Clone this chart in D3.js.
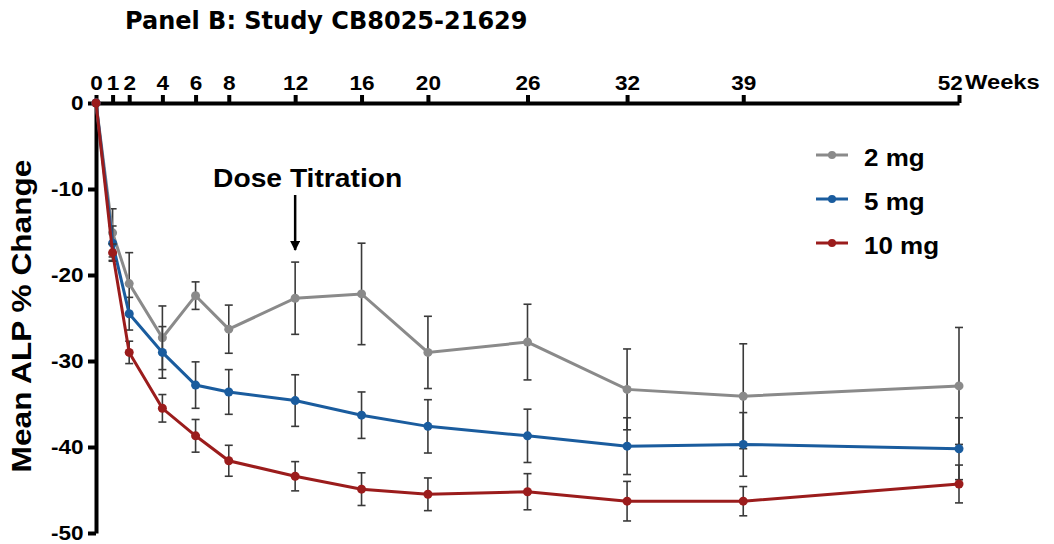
<!DOCTYPE html>
<html>
<head>
<meta charset="utf-8">
<script src="https://cdn.jsdelivr.net/npm/d3@7"></script>
<style>
  body { margin: 0; background: #fff; }
  text { font-family: "Liberation Sans", Arial, sans-serif; font-weight: bold; fill: #000; }
</style>
</head>
<body>
<script>
// weeks on the x axis
var weeks = [0, 1, 2, 4, 6, 8, 12, 16, 20, 26, 32, 39, 52];
var weekTicks = [0, 1, 2, 4, 6, 8, 12, 16, 20, 26, 32, 39, 52];
var yTicks = [0, -10, -20, -30, -40, -50];

// mean % change and error (+/-) per dose
var mean2mg  = [0, -15.1, -21.0, -27.3, -22.4, -26.3, -22.7, -22.2, -29.0, -27.8, -33.3, -34.1, -32.9];
var err2mg   = [0, 2.8, 3.6, 3.7, 1.6, 2.8, 4.2, 5.9, 4.2, 4.4, 4.7, 6.1, 6.8];
var mean5mg  = [0, -16.3, -24.5, -29.0, -32.8, -33.6, -34.6, -36.3, -37.6, -38.7, -39.9, -39.7, -40.2];
var err5mg   = [0, 2.0, 1.9, 3.0, 2.7, 2.6, 3.0, 2.7, 3.1, 3.1, 3.3, 3.7, 3.6];
var mean10mg = [0, -17.4, -29.0, -35.5, -38.7, -41.6, -43.4, -44.9, -45.5, -45.2, -46.3, -46.3, -44.3];
var err10mg  = [0, 1.0, 1.3, 1.6, 1.9, 1.8, 1.7, 1.9, 1.9, 2.1, 2.3, 1.7, 2.2];

var doses = ["2 mg", "5 mg", "10 mg"];
var colors = ["#8a8a8a", "#1a5c9e", "#9b1c1c"];

var series = [
    {name: doses[0], color: colors[0], mean: mean2mg, err: err2mg},
    {name: doses[1], color: colors[1], mean: mean5mg, err: err5mg},
    {name: doses[2], color: colors[2], mean: mean10mg, err: err10mg}
];

var stretch = 1.13;  // reference text looks a bit wide

var svg = d3.select("body").append("svg")
    .attr("width", 1054)
    .attr("height", 544);

var x = d3.scaleLinear().domain([0, 52]).range([96, 959]);
var y = d3.scaleLinear().domain([-50, 0]).range([533, 103]);

// wide text helper
function wideText(tx, ty, size, str) {
    return svg.append("text")
        .attr("transform", "translate(" + tx + "," + ty + ") scale(" + stretch + ",1)")
        .style("font-size", size + "px")
        .text(str);
}

// title
svg.append("text")
    .attr("x", 125).attr("y", 29)
    .style("font-family", "'DejaVu Sans', Verdana, sans-serif")
    .style("font-size", "24px")
    .text("Panel B: Study CB8025-21629");

// top x axis
var xAxis = svg.append("g")
    .attr("transform", "translate(0," + y(0) + ")")
    .call(d3.axisTop(x).tickValues(weekTicks).tickSize(8).tickPadding(5).tickSizeOuter(0)
        .tickFormat(function(d) { return String(d); }));
xAxis.select(".domain").attr("stroke-width", 4).attr("stroke", "#000");
xAxis.selectAll(".tick line").attr("stroke-width", 4).attr("stroke", "#000");
xAxis.selectAll(".tick text")
    .style("font-size", "20px")
    .attr("font-family", null)
    .attr("transform", "scale(" + stretch + ",1)");
// last label sits left of its tick, "Weeks" follows it
xAxis.selectAll(".tick text").filter(function(d) { return d === 52; })
    .attr("text-anchor", "end")
    .attr("x", 3);

wideText(965, 89, 21, "Weeks");

// left y axis
var yAxis = svg.append("g")
    .attr("transform", "translate(" + x(0) + ",0)")
    .call(d3.axisLeft(y).tickValues(yTicks).tickSize(8).tickPadding(3).tickSizeOuter(0)
        .tickFormat(function(d) { return String(d); }));
yAxis.select(".domain").attr("stroke-width", 4).attr("stroke", "#000");
yAxis.selectAll(".tick line").attr("stroke-width", 4).attr("stroke", "#000");
yAxis.selectAll(".tick text")
    .style("font-size", "20px")
    .attr("font-family", null)
    .attr("transform", "scale(" + stretch + ",1)");

svg.append("text")
    .attr("transform", "translate(31,316) rotate(-90) scale(" + stretch + ",1)")
    .attr("text-anchor", "middle")
    .style("font-size", "28px")
    .text("Mean ALP % Change");

// series
var line = d3.line()
    .x(function(d, i) { return x(weeks[i]); })
    .y(function(d) { return y(d); });

series.forEach(function(s) {
    var g = svg.append("g");
    // error bars
    s.mean.forEach(function(m, i) {
        if (s.err[i] <= 0) return;
        var cx = x(weeks[i]);
        var eb = g.append("g").attr("stroke", "#3a3a3a").attr("stroke-width", 1.6);
        eb.append("line").attr("x1", cx).attr("x2", cx)
            .attr("y1", y(m + s.err[i])).attr("y2", y(m - s.err[i]));
        eb.append("line").attr("x1", cx - 4).attr("x2", cx + 4)
            .attr("y1", y(m + s.err[i])).attr("y2", y(m + s.err[i]));
        eb.append("line").attr("x1", cx - 4).attr("x2", cx + 4)
            .attr("y1", y(m - s.err[i])).attr("y2", y(m - s.err[i]));
    });
    g.append("path")
        .attr("d", line(s.mean))
        .attr("fill", "none")
        .attr("stroke", s.color)
        .attr("stroke-width", 3);
    g.selectAll("circle").data(s.mean).enter().append("circle")
        .attr("cx", function(d, i) { return x(weeks[i]); })
        .attr("cy", function(d) { return y(d); })
        .attr("r", 4.5)
        .attr("fill", s.color);
});

// legend
series.forEach(function(s, i) {
    var ly = 155 + i * 44;
    svg.append("line")
        .attr("x1", 816).attr("x2", 848)
        .attr("y1", ly).attr("y2", ly)
        .attr("stroke", s.color).attr("stroke-width", 3);
    svg.append("circle")
        .attr("cx", 832).attr("cy", ly).attr("r", 4)
        .attr("fill", s.color);
    wideText(864, ly + 11, 23, s.name);
});

// dose titration annotation
svg.append("defs").append("marker")
    .attr("id", "arrow")
    .attr("viewBox", "0 0 10 10")
    .attr("refX", 9).attr("refY", 5)
    .attr("markerWidth", 4).attr("markerHeight", 4)
    .attr("orient", "auto")
    .append("path").attr("d", "M0,0 L10,5 L0,10 z").attr("fill", "#000");

wideText(213, 187, 25, "Dose Titration");

svg.append("line")
    .attr("x1", x(12)).attr("x2", x(12))
    .attr("y1", 195).attr("y2", 250)
    .attr("stroke", "#000").attr("stroke-width", 2.5)
    .attr("marker-end", "url(#arrow)");
</script>
</body>
</html>
